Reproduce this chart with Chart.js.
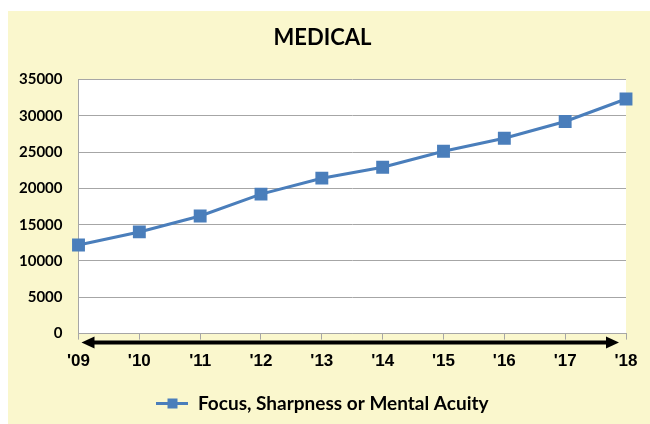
<!DOCTYPE html>
<html>
<head>
<meta charset="utf-8">
<script src="https://cdn.jsdelivr.net/npm/chart.js@4.4.1/dist/chart.umd.min.js"></script>
<style>
  html, body { margin: 0; padding: 0; background: #ffffff; }
  #wrap { position: absolute; left: 8px; top: 11px; width: 642px; height: 413px; background: #faf7cd; }
</style>
</head>
<body>
<div id="wrap"><canvas id="chart" width="642" height="413"></canvas></div>
<script>
// chart data
const years = ["'09", "'10", "'11", "'12", "'13", "'14", "'15", "'16", "'17", "'18"];
const acuity = [12200, 14000, 16200, 19200, 21400, 22900, 25100, 26900, 29200, 32300];
const seriesName = 'Focus, Sharpness or Mental Acuity';

const blue = '#4a7ebb';

// legend marker: line with a square on it
function legendMarker() {
    const c = document.createElement('canvas');
    c.width = 32;
    c.height = 11;
    const g = c.getContext('2d');
    g.strokeStyle = blue;
    g.lineWidth = 3;
    g.beginPath();
    g.moveTo(0, 5.5);
    g.lineTo(32, 5.5);
    g.stroke();
    g.fillStyle = blue;
    g.fillRect(11, 0.5, 10, 10);
    return c;
}

// white plot area + the black double arrow under the x axis
const plotDecor = {
    id: 'plotDecor',
    beforeDraw(chart) {
        const a = chart.chartArea;
        const ctx = chart.ctx;
        ctx.save();
        ctx.fillStyle = '#ffffff';
        ctx.fillRect(a.left, a.top, a.right - a.left, a.bottom - a.top);
        ctx.restore();
    },
    afterDraw(chart) {
        const a = chart.chartArea;
        const ctx = chart.ctx;
        const y = a.bottom + 9;
        const x1 = a.left + 3;
        const x2 = a.right - 7;
        ctx.save();
        ctx.strokeStyle = '#000000';
        ctx.fillStyle = '#000000';
        ctx.lineWidth = 4;
        ctx.beginPath();
        ctx.moveTo(x1 + 8, y);
        ctx.lineTo(x2 - 8, y);
        ctx.stroke();
        ctx.beginPath();
        ctx.moveTo(x1, y);
        ctx.lineTo(x1 + 13, y - 6);
        ctx.lineTo(x1 + 13, y + 6);
        ctx.closePath();
        ctx.fill();
        ctx.beginPath();
        ctx.moveTo(x2, y);
        ctx.lineTo(x2 - 13, y - 6);
        ctx.lineTo(x2 - 13, y + 6);
        ctx.closePath();
        ctx.fill();
        ctx.restore();
    }
};

const ctx = document.getElementById('chart').getContext('2d');
new Chart(ctx, {
    type: 'line',
    data: {
        labels: years,
        datasets: [{
            label: seriesName,
            data: acuity,
            borderColor: blue,
            backgroundColor: blue,
            borderWidth: 3,
            pointStyle: 'rect',
            pointRadius: 7,
            pointHoverRadius: 7,
            tension: 0
        }]
    },
    options: {
        responsive: false,
        animation: false,
        layout: { padding: { left: 11, right: 24, top: 0, bottom: 1 } },
        plugins: {
            title: {
                display: true,
                text: 'MEDICAL',
                color: '#000000',
                font: { family: 'Lato', size: 22, weight: 'bold' },
                padding: { top: 14, bottom: 28 }
            },
            legend: {
                position: 'bottom',
                labels: {
                    color: '#000000',
                    font: { family: 'Lato', size: 19, weight: 'bold' },
                    usePointStyle: true,
                    pointStyleWidth: 32,
                    boxHeight: 11,
                    padding: 10,
                    generateLabels(chart) {
                        const items = Chart.defaults.plugins.legend.labels.generateLabels(chart);
                        items.forEach(it => { it.pointStyle = legendMarker(); });
                        return items;
                    }
                }
            },
            tooltip: { enabled: false }
        },
        scales: {
            x: {
                offset: false,
                grid: {
                    drawOnChartArea: false,
                    drawTicks: true,
                    tickLength: 6,
                    color: '#a6a6a6'
                },
                border: { color: '#a6a6a6', width: 1 },
                ticks: {
                    color: '#000000',
                    font: { family: 'Liberation Sans', size: 17, weight: 'bold' },
                    padding: 12,
                    maxRotation: 0
                }
            },
            y: {
                min: 0,
                max: 35000,
                ticks: {
                    stepSize: 5000,
                    color: '#000000',
                    font: { family: 'Lato', size: 15, weight: 'bold' },
                    padding: 16,
                    callback: v => String(v)
                },
                // padding is counted twice by the fit, drop the extra outer part
                afterFit(scale) { scale.width -= 16; },
                grid: { color: '#a6a6a6', drawTicks: false },
                border: { color: '#a6a6a6', width: 1 }
            }
        }
    },
    plugins: [plotDecor]
});
</script>
</body>
</html>
